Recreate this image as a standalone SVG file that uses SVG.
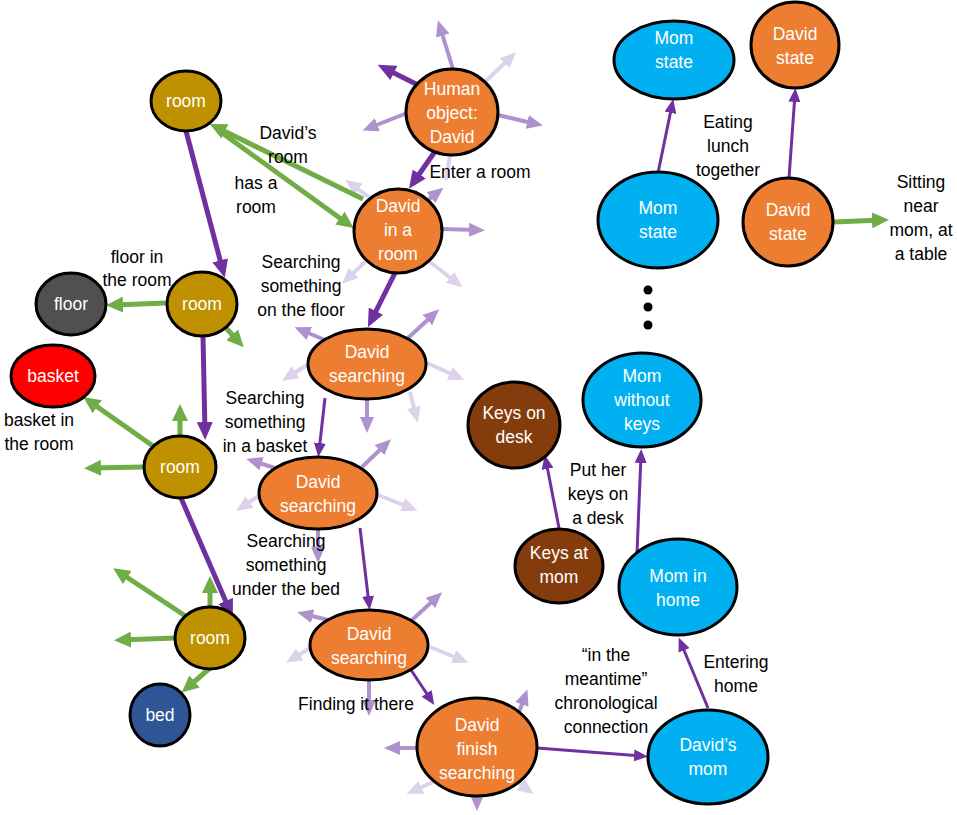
<svg xmlns="http://www.w3.org/2000/svg" width="957" height="815" viewBox="0 0 957 815">
<style>
.n{stroke:#000;stroke-width:3}
.t{font-family:"Liberation Sans",Arial,sans-serif;font-size:17.5px;text-anchor:middle;dominant-baseline:central}
.w{fill:#fff}
.k{fill:#000}
.c{fill:none;stroke-linecap:butt}
.dk{stroke:#7030A0;stroke-width:5;marker-end:url(#mDk)}
.dt{stroke:#7030A0;stroke-width:3;marker-end:url(#mDt)}
.g{stroke:#70AD47;stroke-width:5;marker-end:url(#mG)}
.m{stroke:#AD92CE;stroke-width:4;marker-end:url(#mM)}
.l{stroke:#DDD2EB;stroke-width:4;marker-end:url(#mL)}
.or{fill:#ED7D31}.bl{fill:#00B0F0}.gd{fill:#BF9000}.br{fill:#843C0C}
</style>
<defs>
<marker id="mDk" markerUnits="userSpaceOnUse" markerWidth="18" markerHeight="16" refX="11" refY="8" orient="auto"><path d="M0,0 L18,8 L0,16 z" fill="#7030A0"/></marker>
<marker id="mDt" markerUnits="userSpaceOnUse" markerWidth="14" markerHeight="12" refX="8" refY="6" orient="auto"><path d="M0,0 L14,6 L0,12 z" fill="#7030A0"/></marker>
<marker id="mG" markerUnits="userSpaceOnUse" markerWidth="17" markerHeight="16" refX="10" refY="8" orient="auto"><path d="M0,0 L17,8 L0,16 z" fill="#70AD47"/></marker>
<marker id="mM" markerUnits="userSpaceOnUse" markerWidth="16" markerHeight="14" refX="9" refY="7" orient="auto"><path d="M0,0 L16,7 L0,14 z" fill="#AD92CE"/></marker>
<marker id="mL" markerUnits="userSpaceOnUse" markerWidth="16" markerHeight="14" refX="9" refY="7" orient="auto"><path d="M0,0 L16,7 L0,14 z" fill="#DDD2EB"/></marker>
</defs>
<rect width="957" height="815" fill="#fff"/>
<g id="connectors" class="c">
<!-- light -->
<path class="l" d="M485,82 L511,57"/>
<path d="M450,155 L446,180" stroke="#DDD2EB" stroke-width="4"/>
<path class="l" d="M370,198 L351,184"/>
<path class="l" d="M430,262 L457,283"/>
<path class="l" d="M365,262 L347,279"/>
<path class="l" d="M427,363 L458,377"/>
<path class="l" d="M307,365 L288,377"/>
<path class="l" d="M410,392 L416,416"/>
<path class="l" d="M378,495 L411,508"/>
<path class="l" d="M260,495 L242,507"/>
<path class="l" d="M430,647 L462,660"/>
<path class="l" d="M312,647 L292,659"/>
<path class="l" d="M433,782 L413,791"/>
<path class="l" d="M517,782 L528,790"/>
<!-- medium -->
<path class="m" d="M453,69 L440,27"/>
<path class="m" d="M498,115 L536,124"/>
<path class="m" d="M407,113 L369,128"/>
<path class="m" d="M428,200 L438,192"/>
<path class="m" d="M442,229 L478,230"/>
<path class="m" d="M325,340 L301,330"/>
<path class="m" d="M408,338 L434,314"/>
<path class="m" d="M367,399 L367,426"/>
<path class="m" d="M275,468 L253,461"/>
<path class="m" d="M362,467 L386,444"/>
<path class="m" d="M318,529 L318,556"/>
<path class="m" d="M328,620 L304,614"/>
<path class="m" d="M412,620 L437,597"/>
<path class="m" d="M369,680 L369,709"/>
<path class="m" d="M417,748 L391,748"/>
<path class="m" d="M518,715 L525,696"/>
<path class="m" d="M477,796 L477,804"/>
<!-- green -->
<path class="g" d="M363,199 L216,127"/>
<path class="g" d="M218,130 L348,224"/>
<path class="g" d="M167,303 L113,305"/>
<path class="g" d="M226,328 L239,342"/>
<path class="g" d="M153,446 L89,401"/>
<path class="g" d="M180,436 L180,411"/>
<path class="g" d="M144,467 L91,468"/>
<path class="g" d="M187,617 L119,572"/>
<path class="g" d="M210,607 L210,583"/>
<path class="g" d="M175,638 L121,640"/>
<path class="g" d="M210,668 L187,688"/>
<path class="g" d="M834,222 L882,220"/>
<!-- dark thick -->
<path class="dk" d="M420,86 L384,68"/>
<path class="dk" d="M436,150 L413,183"/>
<path class="dk" d="M395,273 L371,321"/>
<path class="dk" d="M186,131 L223,271"/>
<path class="dk" d="M203,336 L205,433"/>
<path class="dk" d="M181,498 L230,611"/>
<!-- dark thin -->
<path class="dt" d="M325,398 L319,451"/>
<path class="dt" d="M360,528 L369,604"/>
<path class="dt" d="M411,670 L431,700"/>
<path class="dt" d="M537,748 L642,756"/>
<path class="dt" d="M708,708 L681,643"/>
<path class="dt" d="M637,553 L641,455"/>
<path class="dt" d="M559,528 L546,461"/>
<path class="dt" d="M658,173 L672,105"/>
<path class="dt" d="M789,178 L795,94"/>
</g>
<g id="room1"><ellipse class="n gd" cx="186" cy="101" rx="35" ry="30"/><text class="t w" x="186" y="101">room</text></g>
<g id="room2"><ellipse class="n gd" cx="202" cy="304" rx="35" ry="32"/><text class="t w" x="202" y="304">room</text></g>
<g id="floor"><ellipse class="n" fill="#505050" cx="71" cy="304" rx="35" ry="31"/><text class="t w" x="71" y="304">floor</text></g>
<g id="basket"><ellipse class="n" fill="#FF0000" cx="53" cy="376" rx="42" ry="31"/><text class="t w" x="53" y="376">basket</text></g>
<g id="room3"><ellipse class="n gd" cx="180" cy="467" rx="36" ry="31"/><text class="t w" x="180" y="467">room</text></g>
<g id="room4"><ellipse class="n gd" cx="210" cy="638" rx="35" ry="31"/><text class="t w" x="210" y="638">room</text></g>
<g id="bed"><ellipse class="n" fill="#2F5597" cx="160" cy="715" rx="30" ry="31"/><text class="t w" x="160" y="715">bed</text></g>
<g id="human"><ellipse class="n or" cx="452" cy="112" rx="46" ry="43"/><text class="t w" x="452" y="89">Human</text><text class="t w" x="452" y="113">object:</text><text class="t w" x="452" y="137">David</text></g>
<g id="davidRoom"><ellipse class="n or" cx="398" cy="231" rx="44" ry="42"/><text class="t w" x="398" y="206">David</text><text class="t w" x="398" y="230">in a</text><text class="t w" x="398" y="254">room</text></g>
<g id="search1"><ellipse class="n or" cx="367" cy="364" rx="59" ry="35"/><text class="t w" x="367" y="352">David</text><text class="t w" x="367" y="376">searching</text></g>
<g id="search2"><ellipse class="n or" cx="318" cy="493" rx="59" ry="36"/><text class="t w" x="318" y="482">David</text><text class="t w" x="318" y="506">searching</text></g>
<g id="search3"><ellipse class="n or" cx="369" cy="645" rx="59" ry="35"/><text class="t w" x="369" y="634">David</text><text class="t w" x="369" y="658">searching</text></g>
<g id="finish"><ellipse class="n or" cx="477" cy="747" rx="60" ry="49"/><text class="t w" x="477" y="725">David</text><text class="t w" x="477" y="749">finish</text><text class="t w" x="477" y="773">searching</text></g>
<g id="davidsMom"><ellipse class="n bl" cx="708" cy="757" rx="60" ry="47"/><text class="t w" x="708" y="745">David’s</text><text class="t w" x="708" y="769">mom</text></g>
<g id="momHome"><ellipse class="n bl" cx="678" cy="587" rx="59" ry="48"/><text class="t w" x="678" y="576">Mom in</text><text class="t w" x="678" y="600">home</text></g>
<g id="momNoKeys"><ellipse class="n bl" cx="642" cy="400" rx="59" ry="47"/><text class="t w" x="642" y="376">Mom</text><text class="t w" x="642" y="400">without</text><text class="t w" x="642" y="424">keys</text></g>
<g id="keysDesk"><ellipse class="n br" cx="514" cy="425" rx="46" ry="43"/><text class="t w" x="514" y="413">Keys on</text><text class="t w" x="514" y="437">desk</text></g>
<g id="keysMom"><ellipse class="n br" cx="559" cy="566" rx="44" ry="37"/><text class="t w" x="559" y="553">Keys at</text><text class="t w" x="559" y="577">mom</text></g>
<g id="momStateTop"><ellipse class="n bl" cx="674" cy="60" rx="60" ry="39"/><text class="t w" x="674" y="38">Mom</text><text class="t w" x="674" y="62">state</text></g>
<g id="davidStateTop"><ellipse class="n or" cx="795" cy="45" rx="44" ry="43"/><text class="t w" x="795" y="34">David</text><text class="t w" x="795" y="58">state</text></g>
<g id="momStateBottom"><ellipse class="n bl" cx="658" cy="220" rx="60" ry="48"/><text class="t w" x="658" y="208">Mom</text><text class="t w" x="658" y="232">state</text></g>
<g id="davidStateBottom"><ellipse class="n or" cx="788" cy="222" rx="45" ry="44"/><text class="t w" x="788" y="210">David</text><text class="t w" x="788" y="234">state</text></g>
<g id="dots" fill="#000"><circle cx="648" cy="290" r="4.5"/><circle cx="648" cy="307" r="4.5"/><circle cx="648" cy="325" r="4.5"/></g>
<g id="labels" class="t k">
<text x="288" y="133">David’s</text><text x="288" y="157">room</text>
<text x="256" y="183">has a</text><text x="256" y="207">room</text>
<text x="480" y="172">Enter a room</text>
<text x="301" y="262">Searching</text><text x="301" y="286">something</text><text x="301" y="310">on the floor</text>
<text x="137" y="257">floor in</text><text x="137" y="280">the room</text>
<text x="39" y="420">basket in</text><text x="39" y="444">the room</text>
<text x="265" y="398">Searching</text><text x="265" y="422">something</text><text x="265" y="446">in a basket</text>
<text x="286" y="541">Searching</text><text x="286" y="565">something</text><text x="286" y="589">under the bed</text>
<text x="356" y="704">Finding it there</text>
<text x="606" y="655">“in the</text><text x="606" y="679">meantime”</text><text x="606" y="703">chronological</text><text x="606" y="727">connection</text>
<text x="736" y="662">Entering</text><text x="736" y="686">home</text>
<text x="598" y="470">Put her</text><text x="598" y="494">keys on</text><text x="598" y="518">a desk</text>
<text x="728" y="122">Eating</text><text x="728" y="146">lunch</text><text x="728" y="170">together</text>
<text x="921" y="182">Sitting</text><text x="921" y="206">near</text><text x="921" y="230">mom, at</text><text x="921" y="254">a table</text>
</g>
</svg>
